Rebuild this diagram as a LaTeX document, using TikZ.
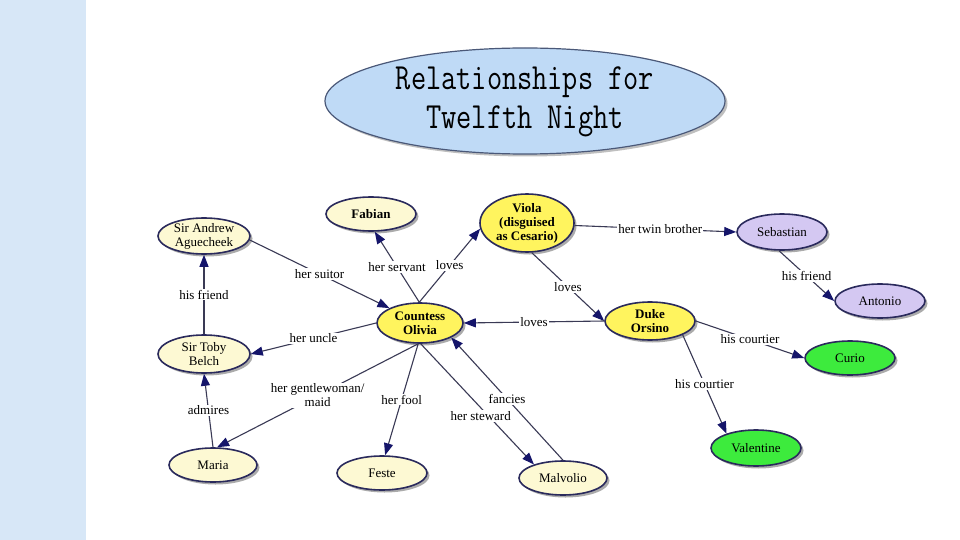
\documentclass[tikz,border=0pt]{standalone}
\usepackage{fontspec}
\setmainfont{Liberation Serif}
\usetikzlibrary{shapes.geometric,arrows.meta,shadows}
\definecolor{bgblue}{HTML}{D7E7F7}
\definecolor{titlefill}{HTML}{BFDAF6}
\definecolor{titlebord}{HTML}{4A5878}
\definecolor{bord}{HTML}{2A2A5C}
\definecolor{creamfill}{HTML}{FDF9D3}
\definecolor{yellowfill}{HTML}{FFF45E}
\definecolor{lavfill}{HTML}{D4C8F2}
\definecolor{greenfill}{HTML}{3DEB3D}
\definecolor{linecol}{HTML}{3A3A55}
\definecolor{tipcol}{HTML}{15156A}
\begin{document}
\begin{tikzpicture}[x=1pt,y=-1pt,
  ell/.style={ellipse, draw=bord, line width=1.6pt, inner sep=0pt,
    drop shadow={shadow xshift=2.5pt, shadow yshift=-2.5pt, fill=black!55, opacity=0.6}},
  creamnode/.style={ell, fill=creamfill},
  yellownode/.style={ell, fill=yellowfill},
  lavnode/.style={ell, fill=lavfill},
  greennode/.style={ell, fill=greenfill},
  ntxt/.style={font=\fontsize{13}{14}\selectfont, align=center, inner sep=0pt},
  btxt/.style={font=\fontsize{13}{14}\selectfont\bfseries, align=center, inner sep=0pt},
  rel/.style={draw=linecol, line width=1.1pt, -{Triangle[length=12pt,width=9pt,color=tipcol]}},
  lbl/.style={fill=white, inner sep=1.2pt, font=\fontsize{13}{14}\selectfont, align=center, text=black}
]
\useasboundingbox (0,0) rectangle (960,540);
\fill[white] (0,0) rectangle (960,540);
\fill[bgblue] (0,0) rectangle (86,540);

% title
\node[ellipse, draw=titlebord, line width=1.2pt, fill=titlefill, inner sep=0pt,
  minimum width=400pt, minimum height=106pt,
  drop shadow={shadow xshift=2.5pt, shadow yshift=-2.5pt, fill=black!50, opacity=0.5},
  label={[inner sep=0pt]center:\scalebox{1}[1.25]{\fontsize{29.5}{31}\selectfont\ttfamily\begin{tabular}{@{}c@{}}Relationships for\\Twelfth Night\end{tabular}}}]
  (title) at (525,101) {};

% nodes
\node[creamnode, minimum width=92pt, minimum height=36pt, label={[ntxt]center:Sir Andrew\\Aguecheek}] (and) at (204,236) {};
\node[creamnode, minimum width=90pt, minimum height=34pt, label={[btxt]center:Fabian}] (fab) at (371,214) {};
\node[yellownode, minimum width=94pt, minimum height=58pt, label={[btxt]center:Viola\\(disguised\\as Cesario)}] (vio) at (527,223) {};
\node[lavnode, minimum width=90pt, minimum height=36pt, label={[ntxt]center:Sebastian}] (seb) at (782,232) {};
\node[lavnode, minimum width=90pt, minimum height=34pt, label={[ntxt]center:Antonio}] (ant) at (880,301) {};
\node[yellownode, minimum width=86pt, minimum height=40pt, label={[btxt]center:Countess\\Olivia}] (oli) at (420,323) {};
\node[yellownode, minimum width=90pt, minimum height=38pt, label={[btxt]center:Duke\\Orsino}] (ors) at (650,321) {};
\node[greennode, minimum width=90pt, minimum height=34pt, label={[ntxt]center:Curio}] (cur) at (850,358) {};
\node[greennode, minimum width=90pt, minimum height=36pt, label={[ntxt]center:Valentine}] (val) at (756,448) {};
\node[creamnode, minimum width=92pt, minimum height=38pt, label={[ntxt]center:Sir Toby\\Belch}] (tob) at (204,354) {};
\node[creamnode, minimum width=88pt, minimum height=34pt, label={[ntxt]center:Maria}] (mar) at (213,465) {};
\node[creamnode, minimum width=90pt, minimum height=34pt, label={[ntxt]center:Feste}] (fes) at (382,473) {};
\node[creamnode, minimum width=88pt, minimum height=34pt, label={[ntxt]center:Malvolio}] (mal) at (563,478) {};

% connectors
\draw[rel] (and.-5) -- node[lbl]{her suitor} (oli.154);
\draw[rel] (oli.92) -- node[lbl]{her servant} (fab.-78);
\draw[rel] (oli.92) -- node[lbl]{loves} (vio.-173);
\draw[rel] (vio.-3) -- node[lbl, pos=0.53]{her twin brother} (seb.west);
\draw[rel] (seb.-99) -- node[lbl]{his friend} (ant.west);
\draw[rel] (vio.-81) -- node[lbl]{loves} (ors.west);
\draw[rel] (ors.west) -- node[lbl]{loves} (oli.east);
\draw[rel] (ors.east) -- node[lbl]{his courtier} (cur.west);
\draw[rel] (ors.-23) -- node[lbl]{his courtier} (val.154);
\draw[rel] (oli.west) -- node[lbl]{her uncle} (tob.east);
\draw[rel] (tob.north) -- node[lbl]{his friend} (and.south);
\draw[rel] (mar.north) -- node[lbl]{admires} (tob.south);
\draw[rel] (oli.-95) -- node[lbl]{her gentlewoman/\\maid} (mar.77);
\draw[rel] (oli.-95) -- node[lbl]{her fool} (fes.80);
\draw[rel] (oli.-88) -- node[lbl, pos=0.6, xshift=-8pt]{her steward} (mal.155);
\draw[rel] (mal.north) -- node[lbl]{fancies} (oli.-25);
\end{tikzpicture}
\end{document}
